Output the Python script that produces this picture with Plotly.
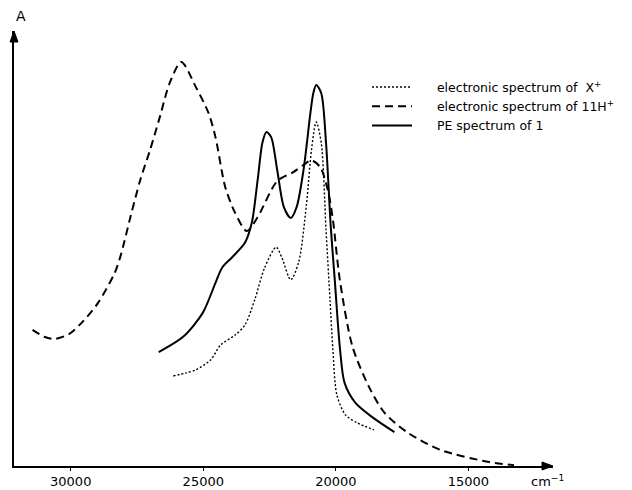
import plotly.graph_objects as go

# wavenumber (cm-1) and absorbance (arbitrary units)
x_dot = [26130, 25650, 25280, 24720, 24350, 23800, 23430, 23060, 22690, 22250, 22030, 21700,
         21400, 21110, 20920, 20740, 20550, 20370, 20220, 20110, 19960, 19630, 19190, 18560]
y_dot = [20.7, 21.4, 22.1, 24.4, 27.8, 30.1, 32.4, 38.2, 45.5, 50.3, 47.8, 42.8,
         46.9, 60.0, 72.6, 79.1, 74.3, 54.3, 38.2, 26.7, 16.3, 11.7, 9.9, 8.3]

x_dash = [31440, 31000, 30630, 30070, 29590, 28970, 28340, 28120, 27750, 27380, 27010, 26640,
          26270, 25830, 25280, 24800, 24540, 24170, 23800, 23360, 22950, 22210, 21590, 21110,
          20920, 20590, 20300, 20110, 19850, 19370, 18750, 18160, 17270, 16050, 14210, 13280]
y_dash = [31.3, 29.7, 29.2, 30.3, 32.9, 37.5, 44.4, 48.3, 57.2, 65.7, 72.6, 80.2,
          88.0, 92.9, 87.1, 81.1, 75.6, 64.1, 58.2, 54.0, 57.2, 65.5, 67.6, 69.7,
          70.3, 68.7, 63.4, 56.6, 42.8, 27.4, 18.2, 12.2, 7.6, 3.7, 0.9, 0.2]

x_solid = [26680, 25760, 25020, 24540, 24280, 23910, 23430, 23170, 22950, 22770, 22620, 22440,
           22210, 21960, 21700, 21480, 21220, 20960, 20850, 20740, 20550, 20370, 20190, 20040,
           19850, 19670, 19260, 18640, 17790]
y_solid = [26.2, 29.7, 35.2, 42.1, 45.7, 48.0, 51.3, 55.9, 65.7, 74.3, 76.8, 75.6,
           68.0, 59.5, 57.0, 59.5, 68.0, 81.1, 85.7, 87.6, 85.7, 74.3, 54.9, 42.8,
           27.4, 19.1, 14.5, 11.3, 7.8]

tick_vals = [30000, 25000, 20000, 15000]
tick_text = ["30000", "25000", "20000", "15000"]

names = ["electronic spectrum of  X<sup>+</sup>",
         "electronic spectrum of 11H<sup>+</sup>",
         "PE spectrum of 1"]

FONT = "DejaVu Sans"
PAD = "&nbsp;&nbsp;&nbsp;&nbsp;&nbsp;"

fig = go.Figure()
fig.add_trace(go.Scatter(x=x_dot, y=y_dot, mode="lines", name=PAD + names[0],
                         line=dict(color="black", width=1.4, dash="2px,2px", shape="spline", smoothing=0.8)))
fig.add_trace(go.Scatter(x=x_dash, y=y_dash, mode="lines", name=PAD + names[1],
                         line=dict(color="black", width=2, dash="8px,5px", shape="spline", smoothing=0.8)))
fig.add_trace(go.Scatter(x=x_solid, y=y_solid, mode="lines", name=PAD + names[2],
                         line=dict(color="black", width=2, shape="spline", smoothing=0.8)))

fig.update_layout(
    template="none",
    width=632, height=490,
    margin=dict(l=14, r=67, t=31, b=24),
    paper_bgcolor="white", plot_bgcolor="white",
    font=dict(family=FONT, color="black", size=13),
    showlegend=True,
    legend=dict(x=0.655, y=0.905, xanchor="left", yanchor="top",
                bgcolor="rgba(0,0,0,0)", borderwidth=0,
                font=dict(family=FONT, size=12.5, color="black"),
                tracegroupgap=0, itemwidth=40),
    xaxis=dict(range=[32140, 11808], showgrid=False, zeroline=False,
               showline=True, linecolor="black", linewidth=1.5,
               tickvals=tick_vals, ticktext=tick_text, ticks="outside",
               ticklen=3, tickcolor="black", tickwidth=1,
               tickfont=dict(family=FONT, size=13, color="black"),
               automargin=False),
    yaxis=dict(range=[0, 100], showgrid=False, zeroline=False,
               showline=True, linecolor="black", linewidth=1.5,
               showticklabels=False, ticks="", automargin=False),
)

# axis arrowheads (pixel-sized paths anchored to the axis ends)
fig.add_shape(type="path", xref="paper", yref="paper", xsizemode="pixel", ysizemode="pixel",
              xanchor=1, yanchor=0, path="M 0 0 L -11 4 L -11 -4 Z",
              fillcolor="black", line=dict(color="black", width=1))
fig.add_shape(type="path", xref="paper", yref="paper", xsizemode="pixel", ysizemode="pixel",
              xanchor=0, yanchor=1, path="M 0 0 L -4 -11 L 4 -11 Z",
              fillcolor="black", line=dict(color="black", width=1))

fig.add_annotation(x=0, y=1, xref="paper", yref="paper", text="A", showarrow=False,
                   yanchor="bottom", yshift=5, font=dict(family=FONT, size=14, color="black"))
fig.add_annotation(x=1.025, y=0, xref="paper", yref="paper", text="cm<sup>−1</sup>",
                   showarrow=False, yanchor="top", yshift=-5,
                   font=dict(family=FONT, size=13, color="black"))

fig.write_html("out.html")
